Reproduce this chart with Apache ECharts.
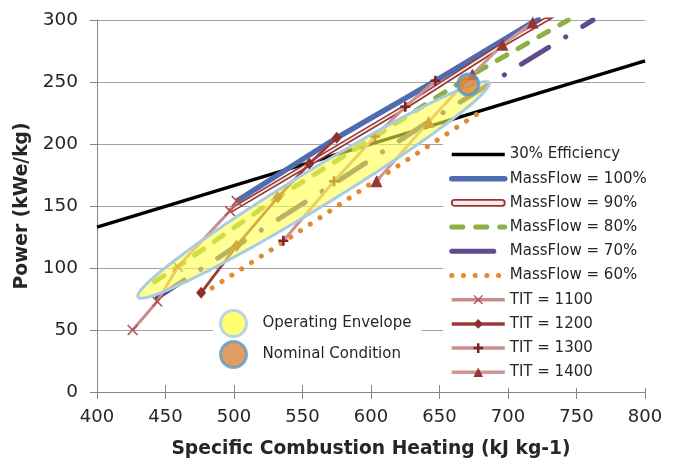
<!DOCTYPE html>
<html><head><meta charset="utf-8">
<script src="https://cdn.jsdelivr.net/npm/echarts@6/dist/echarts.min.js"></script>
<style>html,body{margin:0;padding:0;background:#fff}#c{width:675px;height:464px}</style>
</head><body><div id="c"></div>
<script>
// ---- data ----
const xRange = [400, 800, 50];
const yRange = [0, 300, 50];
const efficiency30 = [[400,133],[800,267]];
const massFlow100 = [[502,154],[575,205],[647,251],[718,298],[724,301]];
const massFlow90  = [[497,146],[555,184],[625,230],[696,280],[735,305]];
const massFlow80  = [[442,89],[459,101],[532,157],[603,206],[674,256],[744,300]];
const massFlow70  = [[444,76],[502,118],[573,168],[642,218],[762,300]];
const massFlow60  = [[484,84],[536,121],[604,171],[680,226]];
const tit1100 = [[426,50],[444,73],[459,101],[497,146],[502,154]];
const tit1200 = [[476,80],[502,118],[532,157],[555,184],[575,205]];
const tit1300 = [[536,122],[573,170],[603,206],[625,230],[647,251]];
const tit1400 = [[604,170],[642,218],[674,256],[696,280],[718,298]];
const envelopeTips = [[429,76,687,250]];   // left tip x,y / right tip x,y
const nominalPoint = [[671,248]];
const names = {
  eff:'30% Efficiency', m100:'MassFlow = 100%', m90:'MassFlow = 90%', m80:'MassFlow = 80%',
  m70:'MassFlow = 70%', m60:'MassFlow = 60%', t1100:'TIT = 1100', t1200:'TIT = 1200',
  t1300:'TIT = 1300', t1400:'TIT = 1400', env:'Operating Envelope', nom:'Nominal Condition'
};

// ---- styling ----
const FONT = 'DejaVu Sans';
const X_PATH = 'path://M1,0L5,4L9,0L10,1L6,5L10,9L9,10L5,6L1,10L0,9L4,5L0,1Z';
const PLUS_PATH = 'path://M3.7,0H6.3V3.7H10V6.3H6.3V10H3.7V6.3H0V3.7H3.7Z';
const DOUBLE_PATH = 'path://M3,0L50,0A3,3 0 0 1 50,6L3,6A3,3 0 0 1 3,0Z';
const C = {
  blue:'#4E6CAF', red:'#943634', green:'#8CB043', purple:'#5E4A8C', orange:'#E3892E',
  pink:'#C98C8A', pink2:'#CB8F8D', pink3:'#CD9593', dred:'#9B3B39',
  axis:'#868686', grid:'#A3A3A3', text:'#262626'
};
const DASH80 = [11, 13], DASH70 = [32, 20, 0.1, 20], DOT60 = [0.1, 11.6];

function plain(name, data, ls) {
  return {type:'line', name, data, symbol:'none', silent:true, z:2,
    lineStyle:Object.assign({join:'round'}, ls)};
}
function tit(name, data, lineColor, lineWidth, symbol, size, markColor) {
  return {type:'line', name, data, symbol, symbolSize:size, showSymbol:true, silent:true, z:2,
    lineStyle:{color:lineColor, width:lineWidth, join:'round'},
    itemStyle:{color:markColor, borderWidth:0}};
}

const series = [
  plain(names.eff, efficiency30, {color:'#000', width:3.5}),
  plain(names.m100, massFlow100, {color:C.blue, width:5.5}),
  plain(names.m90, massFlow90, {color:C.red, width:5}),
  plain(names.m90, massFlow90, {color:'#FBEDEC', width:1.8}),
  plain(names.m80, massFlow80, {color:C.green, width:5, type:DASH80, cap:'round'}),
  plain(names.m70, massFlow70, {color:C.purple, width:5, type:DASH70, cap:'round'}),
  plain(names.m60, massFlow60, {color:C.orange, width:5, type:DOT60, cap:'round'}),
  tit(names.t1100, tit1100, C.pink, 3, X_PATH, 11, '#B0504E'),
  tit(names.t1200, tit1200, C.dred, 2.8, 'diamond', [10,12], '#8E2F2D'),
  tit(names.t1300, tit1300, C.pink2, 3, PLUS_PATH, 10, '#7D2624'),
  tit(names.t1400, tit1400, C.pink3, 3, 'triangle', 12, C.red),
  {
    type:'custom', name:names.env, data:envelopeTips, silent:true, z:3,
    dimensions:['x1','y1','x2','y2'], encode:{x:[0,2], y:[1,3]},
    renderItem(params, api) {
      const p1 = api.coord([api.value(0), api.value(1)]);
      const p2 = api.coord([api.value(2), api.value(3)]);
      const cx = (p1[0]+p2[0])/2, cy = (p1[1]+p2[1])/2;
      const a = Math.hypot(p2[0]-p1[0], p2[1]-p1[1])/2 - 1.5;
      const b = 18.5;
      const ang = Math.atan2(p2[1]-p1[1], p2[0]-p1[0]);
      const ca = Math.cos(ang), sa = Math.sin(ang);
      const pts = [];
      for (let i = 0; i < 96; i++) {
        const t = i / 96 * Math.PI * 2;
        const ex = a*Math.cos(t), ey = b*Math.sin(t);
        pts.push([cx + ex*ca - ey*sa, cy + ex*sa + ey*ca]);
      }
      return {type:'polygon', shape:{points:pts},
        style:{fill:'rgba(255,255,70,0.58)', stroke:'#A9CCE3', lineWidth:3}};
    }
  },
  {type:'scatter', name:names.nom, data:nominalPoint, symbol:'circle', symbolSize:21, silent:true, z:3,
    itemStyle:{color:'#DA8439', borderColor:'#4C97CF', borderWidth:3}}
];

const hide = {opacity:0};
const option = {
  animation:false,
  textStyle:{fontFamily:FONT},
  grid:{left:97, right:30, top:20, bottom:69, containLabel:false},
  xAxis:[{
    type:'value', min:xRange[0], max:xRange[1], interval:xRange[2], position:'bottom',
    axisLine:{lineStyle:{color:C.axis, width:1}},
    axisTick:{length:7, lineStyle:{color:C.axis}},
    axisLabel:{margin:16, fontFamily:FONT, fontSize:18, color:C.text},
    splitLine:{show:false},
    name:'Specific Combustion Heating (kJ kg-1)', nameLocation:'middle', nameGap:48,
    nameTextStyle:{fontFamily:FONT, fontSize:18.7, fontWeight:'bold', color:C.text}
  },{
    type:'value', min:xRange[0], max:xRange[1], interval:xRange[2], position:'bottom',
    axisLine:{show:false}, axisTick:{inside:true, length:7, lineStyle:{color:C.axis}},
    axisLabel:{show:false}, splitLine:{show:false}
  }],
  yAxis:{
    type:'value', min:yRange[0], max:yRange[1], interval:yRange[2],
    axisLine:{show:true, lineStyle:{color:C.axis, width:1}},
    axisTick:{show:true, length:7, lineStyle:{color:C.axis}},
    axisLabel:{margin:19, fontFamily:FONT, fontSize:18.5, color:C.text},
    splitLine:{lineStyle:{color:C.grid, width:1}},
    name:'Power (kWe/kg)', nameLocation:'middle', nameGap:62,
    nameTextStyle:{fontFamily:FONT, fontSize:18.7, fontWeight:'bold', color:C.text}
  },
  legend:[{
    orient:'vertical', left:443, top:140, padding:[7,12,8,6], backgroundColor:'#fff',
    itemWidth:53, itemHeight:12, itemGap:9.2, selectedMode:false,
    textStyle:{fontFamily:FONT, fontSize:15, color:C.text},
    data:[
      {name:names.eff, itemStyle:hide, lineStyle:{width:3.5, color:'#000'}},
      {name:names.m100, itemStyle:hide, lineStyle:{width:5.5, color:C.blue, cap:'round'}},
      {name:names.m90, icon:DOUBLE_PATH, itemStyle:{color:'#FBEDEC', borderColor:C.red, borderWidth:1.8}},
      {name:names.m80, itemStyle:hide, lineStyle:{width:5, color:C.green, type:DASH80, cap:'round'}},
      {name:names.m70, itemStyle:hide, lineStyle:{width:5, color:C.purple, type:[42,40], cap:'round'}},
      {name:names.m60, itemStyle:hide, lineStyle:{width:5, color:C.orange, type:DOT60, cap:'round'}},
      {name:names.t1100, lineStyle:{width:3.5, color:C.pink}},
      {name:names.t1200, lineStyle:{width:3.5, color:C.dred}},
      {name:names.t1300, lineStyle:{width:3.5, color:C.pink2}},
      {name:names.t1400, lineStyle:{width:3.5, color:C.pink3}}
    ]
  },{
    orient:'vertical', left:213, top:305, padding:[4,10,5,6], backgroundColor:'#fff',
    itemWidth:28, itemHeight:26, itemGap:2, selectedMode:false,
    textStyle:{fontFamily:FONT, fontSize:15, color:C.text, padding:[0,0,0,10]},
    data:[
      {name:names.env, icon:'circle', itemStyle:{color:'#FFFF70', borderColor:'#B5D5E8', borderWidth:3}},
      {name:names.nom, icon:'circle', itemStyle:{color:'#D9843B', borderColor:'#5B9BCB', borderWidth:3}}
    ]
  }],
  series
};
const chart = echarts.init(document.getElementById('c'));
chart.setOption(option);
</script>
</body></html>
